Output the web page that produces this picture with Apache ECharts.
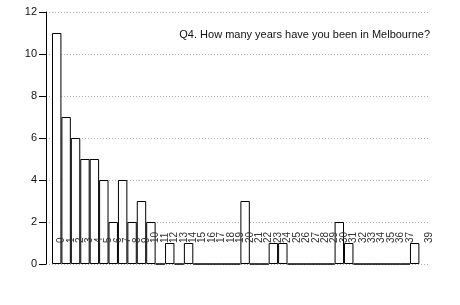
<!DOCTYPE html>
<html><head><meta charset="utf-8">
<script src="https://cdn.jsdelivr.net/npm/echarts@6/dist/echarts.min.js"></script>
<style>html,body{margin:0;padding:0;background:#fff}#c{width:460px;height:305px}</style>
</head><body><div id="c"></div>
<script>
var categories = [];
for (var i = 0; i < 40; i++) categories.push(String(i));
var counts = [11,7,6,5,5,4,2,4,2,3,2,0,1,0,1,0,0,0,0,0,3,0,0,1,1,0,0,0,0,0,2,1,0,0,0,0,0,0,1];
var tickLabels = categories.slice();
var yTicks = [0,2,4,6,8,10,12];
var titleText = 'Q4. How many years have you been in Melbourne?';

var chart = echarts.init(document.getElementById('c'), null, {renderer:'canvas'});
var font = 'Liberation Sans, Arial, Helvetica, sans-serif';
chart.setOption({
  animation: false,
  backgroundColor: '#fff',
  title: {text: titleText, right: 30, top: 29, padding: 0,
    textStyle: {fontSize: 11, fontWeight: 'normal', color: '#111', fontFamily: font}},
  grid: [
    {left: 46, top: 12, width: 384, height: 252, containLabel: false},
    {left: 52, top: 12, width: 376.8, height: 252, containLabel: false}
  ],
  xAxis: [
    {gridIndex: 1, type: 'category', data: categories, boundaryGap: true,
      axisLine: {show: false}, axisTick: {show: false}, axisLabel: {show: false}, splitLine: {show: false}},
    {gridIndex: 1, type: 'value', position: 'bottom', min: -1, max: 39, interval: 1, z: 10,
      axisLine: {show: false}, axisTick: {show: false}, splitLine: {show: false},
      axisLabel: {show: true, inside: true, rotate: 90, margin: 21, fontSize: 10, color: '#333', fontFamily: font,
        showMinLabel: true, showMaxLabel: true,
        formatter: function (v) { return v < 0 ? '' : tickLabels[v]; }}},
    {gridIndex: 0, type: 'value', min: 0, max: 1, show: false}
  ],
  yAxis: [
    {gridIndex: 0, type: 'value', min: 0, max: 12, interval: 2,
      axisLine: {show: true, lineStyle: {color: '#000', width: 1}},
      axisTick: {show: true, length: 7, lineStyle: {color: '#000'}},
      axisLabel: {fontSize: 11, color: '#111', margin: 9, fontFamily: font,
        formatter: function (v) { return yTicks.indexOf(v) >= 0 ? String(v) : ''; }},
      splitLine: {show: true, lineStyle: {color: '#a8a8c8', type: [1, 2], width: 1}}},
    {gridIndex: 1, type: 'value', min: 0, max: 12, interval: 2, show: false}
  ],
  series: [{
    type: 'bar', xAxisIndex: 0, yAxisIndex: 1, data: counts,
    barWidth: '100%', barCategoryGap: '0%',
    itemStyle: {color: '#fff', borderColor: '#000', borderWidth: 1},
    emphasis: {disabled: true}
  }]
});
</script></body></html>
